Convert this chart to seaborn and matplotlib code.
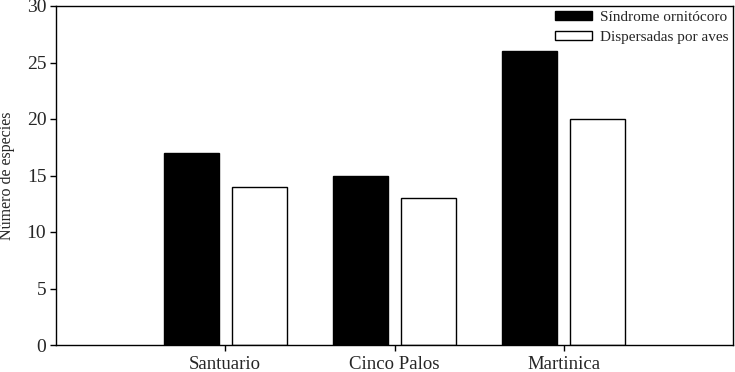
import matplotlib
matplotlib.use("Agg")
import matplotlib.pyplot as plt
import seaborn as sns
import pandas as pd

sites = ["Santuario", "Cinco Palos", "Martinica"]
sindrome = [17, 15, 26]
dispersadas = [14, 13, 20]
series_names = ["Síndrome ornitócoro", "Dispersadas por aves"]

df = pd.DataFrame({
    "sitio": sites * 2,
    "valor": sindrome + dispersadas,
    "serie": [series_names[0]] * 3 + [series_names[1]] * 3,
})

sns.set_style("ticks")
plt.rcParams["font.family"] = ["Liberation Serif", "DejaVu Serif"]

fig = plt.figure(figsize=(7.35, 3.72), dpi=100)
ax = fig.add_axes([56/735, 1 - 345/372, (733-56)/735, (345-6)/372])

sns.barplot(data=df, x="sitio", y="valor", hue="serie", order=sites,
            hue_order=series_names, palette=["black", "white"],
            width=0.8, gap=0.19, edgecolor="black", linewidth=1.0,
            ax=ax, saturation=1)

ax.set_xlim(-1, 3)
ax.set_ylim(0, 30)
ax.set_yticks(range(0, 31, 5))
ax.set_xlabel("")
ax.set_ylabel("Número de especies", fontsize=11.5)
ax.yaxis.set_label_coords((15 - 56) / 677, 0.5)
ax.tick_params(axis="both", direction="out", length=4, width=1, color="black")
ax.tick_params(axis="y", pad=3, labelsize=14)
ax.tick_params(axis="x", pad=4, labelsize=13.5)
for s in ax.spines.values():
    s.set_visible(True)
    s.set_color("black")
    s.set_linewidth(1.0)

leg = ax.legend(loc="upper right", bbox_to_anchor=(1.0, 1.0), frameon=False, fontsize=11,
                handlelength=2.4, handleheight=0.6, borderaxespad=0.0, borderpad=0.3,
                labelspacing=0.45, handletextpad=0.55)
for h in leg.legend_handles:
    h.set_edgecolor("black")

fig.savefig("out.png", dpi=100)
